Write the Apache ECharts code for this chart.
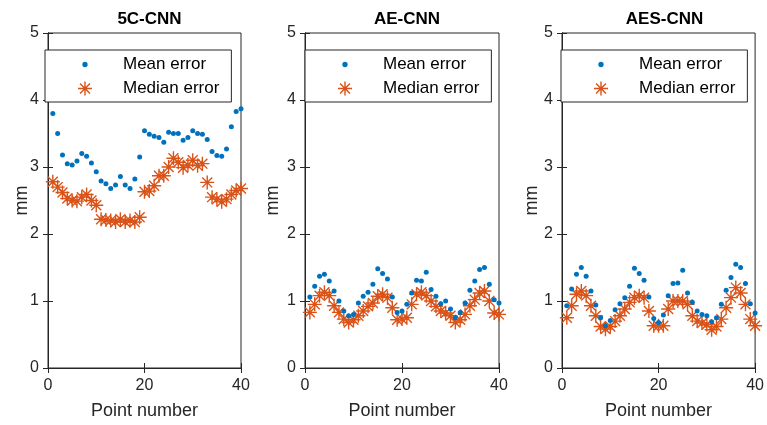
<!DOCTYPE html>
<html>
<head>
<meta charset="utf-8">
<script src="https://cdn.jsdelivr.net/npm/echarts@6/dist/echarts.min.js"></script>
<style>
  html, body { margin: 0; padding: 0; background: #fff; }
  #main { width: 767px; height: 425px; }
</style>
</head>
<body>
<div id="main"></div>
<script>
var pointNumbers = [1,2,3,4,5,6,7,8,9,10,11,12,13,14,15,16,17,18,19,20,
                    21,22,23,24,25,26,27,28,29,30,31,32,33,34,35,36,37,38,39,40];
var titles = ['5C-CNN', 'AE-CNN', 'AES-CNN'];

// 5C-CNN
var mean5C = [3.80,3.50,3.18,3.05,3.03,3.09,3.20,3.16,3.06,2.93,2.79,2.75,2.68,2.73,2.86,2.73,2.68,2.82,3.15,3.54,
              3.49,3.46,3.44,3.37,3.52,3.50,3.50,3.40,3.44,3.54,3.50,3.49,3.41,3.23,3.17,3.16,3.27,3.60,3.83,3.87];
var median5C = [2.78,2.70,2.62,2.53,2.50,2.49,2.55,2.59,2.50,2.43,2.22,2.21,2.20,2.18,2.22,2.18,2.20,2.18,2.25,2.63,
                2.64,2.72,2.87,2.87,3.00,3.13,3.07,2.99,3.03,3.10,3.02,3.05,2.77,2.55,2.52,2.48,2.52,2.59,2.65,2.68];
// AE-CNN
var meanAE = [1.06,1.22,1.37,1.40,1.30,1.15,1.00,0.85,0.78,0.80,0.97,1.07,1.13,1.25,1.48,1.41,1.33,1.06,0.83,0.85,
              0.95,1.12,1.31,1.30,1.43,1.17,1.07,0.96,1.00,0.88,0.75,0.83,0.97,1.16,1.30,1.47,1.50,1.25,1.02,0.97];
var medianAE = [0.83,0.95,1.08,1.13,1.08,0.93,0.83,0.73,0.68,0.72,0.78,0.85,0.92,0.97,1.07,1.10,1.05,0.90,0.72,0.73,
                0.75,0.95,1.10,1.13,1.08,1.00,0.92,0.85,0.82,0.78,0.68,0.72,0.80,0.93,1.02,1.12,1.15,1.00,0.82,0.80];
// AES-CNN
var meanAES = [0.93,1.18,1.40,1.50,1.37,1.15,0.94,0.75,0.63,0.71,0.87,0.96,1.05,1.22,1.49,1.41,1.31,1.06,0.74,0.68,
               0.79,1.08,1.26,1.27,1.46,1.12,0.98,0.85,0.80,0.78,0.69,0.75,0.95,1.16,1.35,1.55,1.50,1.26,0.96,0.82];
var medianAES = [0.75,0.93,1.10,1.15,1.08,0.93,0.78,0.62,0.58,0.62,0.70,0.78,0.88,0.98,1.05,1.08,1.05,0.85,0.63,0.63,
                 0.63,0.88,1.00,1.00,1.00,0.95,0.78,0.70,0.67,0.65,0.57,0.62,0.73,0.90,1.05,1.20,1.12,0.95,0.73,0.63];

var meanSets = [mean5C, meanAE, meanAES];
var medianSets = [median5C, medianAE, medianAES];

var FONT = '"Liberation Sans", Arial, Helvetica, sans-serif';
var AX = '#262626';
var BLUE = '#0072BD';
var ORANGE = '#D95319';
var STAR = 'path://M0 45L100 45L100 55L0 55Z M45 0L55 0L55 100L45 100Z M11 18L18 11L89 82L82 89Z M82 11L89 18L18 89L11 82Z';
var DOT = 'path://M0 0L0.1 0L0.1 0.1L0 0.1Z M99.9 99.9L100 99.9L100 100L99.9 100Z M50 31A19 19 0 1 1 49.9 31Z';

var gridLefts = [48, 305, 562];
var gridWidths = [193, 194, 195];
var legendLefts = [45, 305, 561];
var mmGaps = [17, 23, 21];

var chart = echarts.init(document.getElementById('main'));
var grids = [], xAxes = [], yAxes = [], series = [], legends = [], titleList = [];

function pairs(vals) {
    return vals.map(function (v, i) { return [pointNumbers[i], v]; });
}

for (var g = 0; g < 3; g++) {
    grids.push({ left: gridLefts[g], top: 33, width: gridWidths[g], height: 336,
                 show: true, borderColor: AX, borderWidth: 1 });
    titleList.push({
        text: titles[g], left: gridLefts[g] + gridWidths[g] / 2, top: 6, textAlign: 'center',
        textStyle: { fontFamily: FONT, fontSize: 17, fontWeight: 'bold', color: '#000' }
    });
    xAxes.push({
        type: 'value', gridIndex: g, min: 0, max: 40, interval: 20,
        name: 'Point number', nameLocation: 'middle', nameGap: 34, nameMoveOverlap: false,
        nameTextStyle: { fontFamily: FONT, fontSize: 18, color: AX },
        axisLine: { lineStyle: { color: AX, width: 1 } },
        axisTick: { inside: true, length: 5, lineStyle: { color: AX } },
        axisLabel: { fontFamily: FONT, fontSize: 16, color: AX, margin: 10 },
        splitLine: { show: false }
    });
    xAxes.push({
        type: 'value', gridIndex: g, min: 0, max: 40, interval: 20, position: 'top',
        axisLine: { lineStyle: { color: AX, width: 1 } },
        axisTick: { inside: true, length: 5, lineStyle: { color: AX } },
        axisLabel: { show: false }, splitLine: { show: false }
    });
    yAxes.push({
        type: 'value', gridIndex: g, min: 0, max: 5, interval: 1,
        name: 'mm', nameLocation: 'middle', nameGap: mmGaps[g], nameRotate: 90, nameMoveOverlap: false,
        nameTextStyle: { fontFamily: FONT, fontSize: 18, color: AX },
        axisLine: { show: true, lineStyle: { color: AX, width: 1 } },
        axisTick: { show: true, inside: true, length: 5, lineStyle: { color: AX } },
        axisLabel: { fontFamily: FONT, fontSize: 16, color: AX, margin: 9 },
        splitLine: { show: false }
    });
    yAxes.push({
        type: 'value', gridIndex: g, min: 0, max: 5, interval: 1, position: 'right',
        axisLine: { show: true, lineStyle: { color: AX, width: 1 } },
        axisTick: { show: true, inside: true, length: 5, lineStyle: { color: AX } },
        axisLabel: { show: false }, splitLine: { show: false }
    });
    series.push({
        name: 'Mean error', type: 'scatter', xAxisIndex: 2 * g, yAxisIndex: 2 * g,
        symbol: 'circle', symbolSize: 5, itemStyle: { color: BLUE, opacity: 1 },
        data: pairs(meanSets[g]), z: 3
    });
    series.push({
        name: 'Median error', type: 'scatter', xAxisIndex: 2 * g, yAxisIndex: 2 * g,
        symbol: STAR, symbolSize: 14, itemStyle: { color: ORANGE, opacity: 1 },
        data: pairs(medianSets[g]), z: 2
    });
    legends.push({
        left: legendLefts[g], top: 50, orient: 'vertical',
        backgroundColor: '#fff', borderColor: AX, borderWidth: 1, borderRadius: 0,
        padding: [6, 12, 5, 33], itemGap: 7, itemWidth: 66, itemHeight: 14,
        selectedMode: false,
        textStyle: { fontFamily: FONT, fontSize: 17, color: '#000' },
        data: [{ name: 'Mean error', icon: DOT }, { name: 'Median error' }]
    });
}

var option = {
    animation: false,
    backgroundColor: '#fff',
    title: titleList,
    legend: legends,
    grid: grids,
    xAxis: xAxes,
    yAxis: yAxes,
    series: series
};
chart.setOption(option);
</script>
</body>
</html>
